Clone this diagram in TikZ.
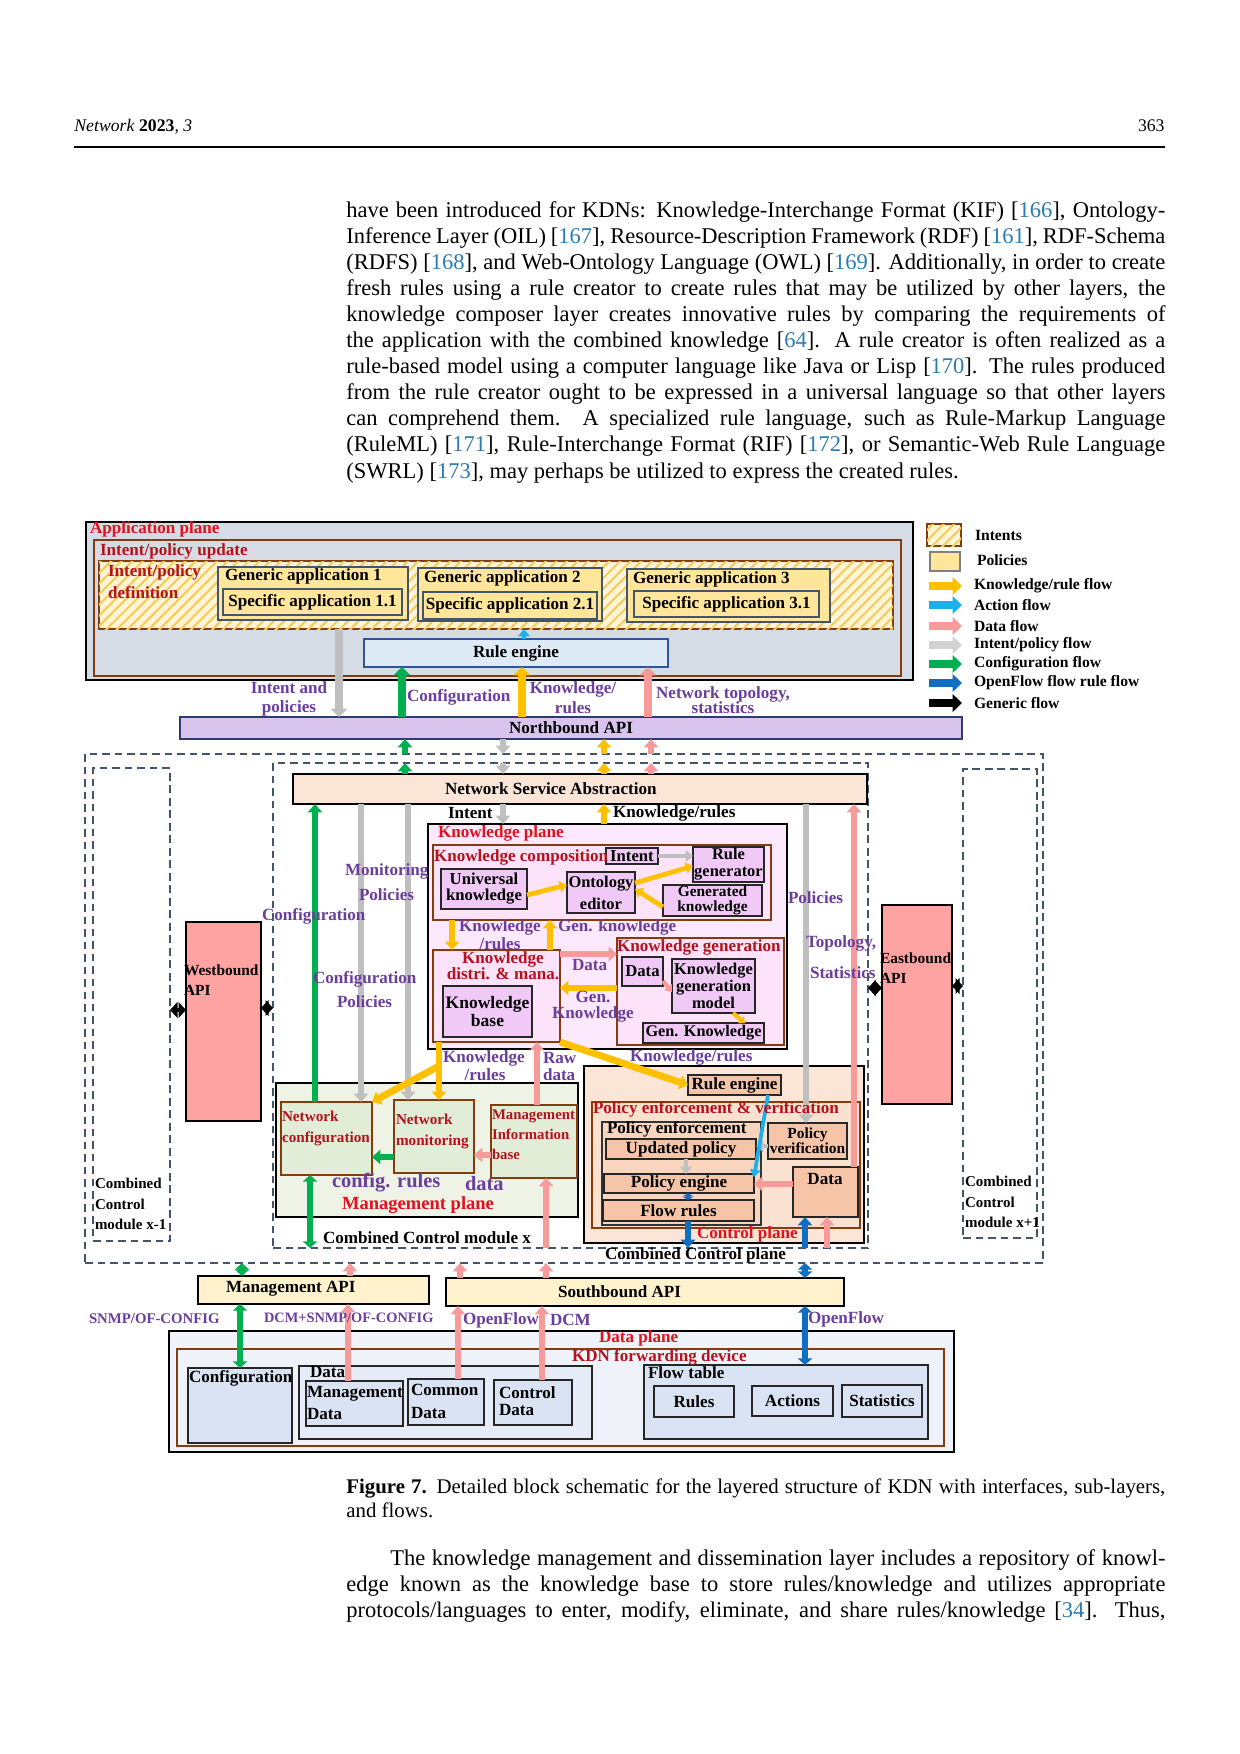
\documentclass[tikz,border=0pt]{standalone}
\usepackage{fontspec}
\setmainfont{Liberation Serif}
\usetikzlibrary{arrows.meta,patterns.meta}
\definecolor{redA}{HTML}{E3101E}
\definecolor{redB}{HTML}{B5121B}
\definecolor{purp}{HTML}{6A3E9E}
\definecolor{brownB}{HTML}{843C0C}
\definecolor{slate}{HTML}{44546A}
\definecolor{cyell}{HTML}{FFC000}
\definecolor{cgray}{HTML}{BFBFBF}
\definecolor{cgreen}{HTML}{00B050}
\definecolor{cpink}{HTML}{F79A9A}
\definecolor{ccyan}{HTML}{1CB0EC}
\definecolor{cblue}{HTML}{0F6EC0}
\definecolor{citec}{HTML}{2B7BB5}
\definecolor{appbg}{HTML}{D6DCE5}
\definecolor{polfill}{HTML}{FFE69A}
\definecolor{hatchbg}{HTML}{FFF5D6}
\definecolor{hatchln}{HTML}{F5CB5C}
\definecolor{rulebg}{HTML}{DEEBF7}
\definecolor{rulebd}{HTML}{2F5597}
\definecolor{nbbg}{HTML}{D8C4EC}
\definecolor{nbbd}{HTML}{2E3C6E}
\definecolor{nsabg}{HTML}{FBE5D6}
\definecolor{kpbg}{HTML}{FDE9FD}
\definecolor{kcbg}{HTML}{FCE3F9}
\definecolor{kinbg}{HTML}{F1C9F7}
\definecolor{wbbg}{HTML}{FFA2A2}
\definecolor{mpbg}{HTML}{EEF3E6}
\definecolor{mpin}{HTML}{E2EDD8}
\definecolor{cpbg}{HTML}{FBE5D6}
\definecolor{pevbg}{HTML}{FBE2D0}
\definecolor{pebg}{HTML}{F9D5BE}
\definecolor{pin}{HTML}{F6C4A6}
\definecolor{apibg}{HTML}{FFF2CC}
\definecolor{dpbg}{HTML}{EFF3F9}
\definecolor{dpin}{HTML}{DAE3F3}
\newcommand\dfz[2]{\fontsize{#1}{#2}\selectfont\bfseries}
\newcommand\bodyf{\fontsize{10.8}{13}\selectfont}
\newcommand\capf{\fontsize{10}{12}\selectfont}
\newcommand\rf[1]{\textcolor{citec}{#1}}
\newcommand\mybox[7]{\node[inner sep=0pt,outer sep=0pt,#6,minimum width={(#4-#2)*0.48pt},minimum height={(#5-#3)*0.48pt}] (#1) at ({(#2+#4)/2},{(#3+#5)/2}) {#7};}
\newcommand\jl[4]{\pgfmathsetlengthmacro\jw{(1165-#2)*0.48pt}\node[anchor=base west,inner sep=0pt,font=\bodyf] (#1) at (#2,#3) {\makebox[\jw][s]{#4}};}
\tikzset{
  lb/.style={inner sep=0pt,outer sep=0pt,font=\dfz{8.2}{9.5}},
  rA/.style={lb,text=redA},
  rB/.style={lb,text=redB},
  pu/.style={lb,text=purp},
  bk/.style={lb,text=black},
  lg/.style={inner sep=0pt,outer sep=0pt,font=\dfz{7.5}{9}},
  hatch/.style={fill=hatchbg,postaction={pattern color=hatchln,pattern={Lines[angle=45,distance=3.6pt,line width=1pt]}}},
  abox/.style={draw=slate,line width=0.6pt,fill=polfill,font=\dfz{8.2}{9.5}},
  brbox/.style={draw=brownB,line width=1.4pt,fill=kcbg},
  kbox/.style={draw=black!85,line width=0.6pt,fill=kinbg,font=\dfz{8}{9}},
  gbox/.style={draw=brownB,line width=1pt,fill=mpin},
  pbox/.style={draw=black!85,line width=0.6pt,fill=pin,font=\dfz{8.2}{9.5}},
  apibox/.style={draw=black,line width=0.6pt,fill=apibg},
  dbx/.style={draw=black!85,line width=0.6pt,fill=dpin,font=\dfz{8.2}{9.5}},
  dbox/.style={draw=slate,line width=0.9pt,dash pattern=on 3.8pt off 2.2pt},
  aup/.style={line width=4.3pt,-{Triangle[width=8pt,length=4pt]}},
  amid/.style={line width=3.3pt,-{Triangle[width=6.8pt,length=4pt]}},
  amidd/.style={line width=3.3pt,{Triangle[width=6.8pt,length=3.2pt]}-{Triangle[width=6.8pt,length=3.2pt]}},
  asm/.style={line width=2.3pt,-{Triangle[width=5.5pt,length=3.5pt]}},
  atiny/.style={line width=2pt,{Triangle[width=5pt,length=1.6pt]}-{Triangle[width=5pt,length=1.6pt]}},
  aleg/.style={line width=3.8pt,-{Triangle[width=8.5pt,length=4.5pt]}},
  ablk/.style={line width=2.2pt,{Triangle[width=7.5pt,length=3.6pt]}-{Triangle[width=7.5pt,length=3.6pt]}},
}
\begin{document}
\begin{tikzpicture}[x=0.48pt,y=-0.48pt]
\useasboundingbox (0,0) rectangle (1240,1754);
\fill[white] (0,0) rectangle (1240,1754);

% ---------- page header and text ----------
\node[anchor=base west,inner sep=0pt,font=\fontsize{8.5}{10}\selectfont] (hd) at (74,131) {\textit{Network} \textbf{2023}, \textit{3}};
\node[anchor=base east,inner sep=0pt,font=\fontsize{8.5}{10}\selectfont] (pg) at (1165,131) {363};
\draw[line width=0.5pt] (hd.west |- 0,147) -- (pg.east |- 0,147);

\jl{t1}{346}{217}{have been introduced for KDNs: Knowledge-Interchange Format (KIF) [\rf{166}], Ontology-}
\jl{t2}{346}{243.1}{Inference Layer (OIL) [\rf{167}], Resource-Description Framework (RDF) [\rf{161}], RDF-Schema}
\jl{t3}{346}{269.2}{(RDFS) [\rf{168}], and Web-Ontology Language (OWL) [\rf{169}]. Additionally, in order to create}
\jl{t4}{346}{295.3}{fresh rules using a rule creator to create rules that may be utilized by other layers, the}
\jl{t5}{346}{321.4}{knowledge composer layer creates innovative rules by comparing the requirements of}
\jl{t6}{346}{347.5}{the application with the combined knowledge [\rf{64}].  A rule creator is often realized as a}
\jl{t7}{346}{373.6}{rule-based model using a computer language like Java or Lisp [\rf{170}]. The rules produced}
\jl{t8}{346}{399.7}{from the rule creator ought to be expressed in a universal language so that other layers}
\jl{t9}{346}{425.8}{can comprehend them.  A specialized rule language, such as Rule-Markup Language}
\jl{t10}{346}{451.9}{(RuleML) [\rf{171}], Rule-Interchange Format (RIF) [\rf{172}], or Semantic-Web Rule Language}
\node[anchor=base west,inner sep=0pt,font=\bodyf] (t11) at (346,478) {(SWRL) [\rf{173}], may perhaps be utilized to express the created rules.};

\node[anchor=base west,inner sep=0pt,font=\capf] (c1) at (346,1493) {\makebox[393.1pt][s]{\textbf{Figure 7.} Detailed block schematic for the layered structure of KDN with interfaces, sub-layers,}};
\node[anchor=base west,inner sep=0pt,font=\capf] (c2) at (346,1517) {and flows.};

\jl{b1}{390}{1565}{The knowledge management and dissemination layer includes a repository of knowl-}
\jl{b2}{346}{1591}{edge known as the knowledge base to store rules/knowledge and utilizes appropriate}
\jl{b3}{346}{1617}{protocols/languages to enter, modify, eliminate, and share rules/knowledge [\rf{34}]. Thus,}

% ---------- application plane ----------
\mybox{app}{86}{522}{913}{680}{draw=black,line width=1.3pt,fill=appbg}{}
\mybox{ipu}{94}{540}{901}{676}{draw=brownB,line width=1.1pt}{}
\mybox{ipd}{99}{561}{893}{629}{draw=brownB,line width=1.1pt,hatch}{}
\mybox{ga1}{218}{567}{408}{620}{abox}{}
\mybox{sa1}{223}{589}{402}{615}{abox}{Specific application 1.1}
\mybox{ga2}{418}{568}{602}{621}{abox}{}
\mybox{sa2}{423}{592}{597}{619}{abox}{Specific application 2.1}
\mybox{ga3}{627}{569}{830}{622}{abox}{}
\mybox{sa3}{634}{591}{819}{617}{abox}{Specific application 3.1}
\mybox{re1}{364}{639}{668}{667}{draw=rulebd,line width=0.8pt,fill=rulebg,font=\dfz{8.2}{9.5}}{Rule engine}
\mybox{nb}{180}{717}{962}{739}{draw=nbbd,line width=0.8pt,fill=nbbg}{}

% ---------- legend ----------
\mybox{lgi}{927}{524}{961}{546}{draw=brownB,line width=1pt,hatch}{}
\mybox{lgp}{930}{552}{960}{571}{draw=gray,line width=0.6pt,fill=polfill}{}
\node[lg,anchor=west] (lg1) at (975,535) {Intents};
\node[lg,anchor=west] (lg2) at (977,560) {Policies};
\node[lg,anchor=west] (lg3) at (974,586) {Knowledge/rule flow};
\node[lg,anchor=west] (lg4) at (974,605) {Action flow};
\node[lg,anchor=west] (lg5) at (974,626) {Data flow};
\node[lg,anchor=west] (lg6) at (974,645) {Intent/policy flow};
\node[lg,anchor=west] (lg7) at (974,664) {Configuration flow};
\node[lg,anchor=west] (lg8) at (974,683) {OpenFlow flow rule flow};
\node[lg,anchor=west] (lg9) at (974,703) {Generic flow};
\draw[aleg,cyell] ([xshift=-21.6pt]lg3.west) -- ([xshift=-5.8pt]lg3.west);
\draw[aleg,ccyan] ([xshift=-21.6pt]lg4.west) -- ([xshift=-5.8pt]lg4.west);
\draw[aleg,cpink] ([xshift=-21.6pt]lg5.west) -- ([xshift=-5.8pt]lg5.west);
\draw[aleg,cgray!70] ([xshift=-21.6pt]lg6.west) -- ([xshift=-5.8pt]lg6.west);
\draw[aleg,cgreen] ([xshift=-21.6pt]lg7.west) -- ([xshift=-5.8pt]lg7.west);
\draw[aleg,cblue] ([xshift=-21.6pt]lg8.west) -- ([xshift=-5.8pt]lg8.west);
\draw[aleg,black] ([xshift=-21.6pt]lg9.west) -- ([xshift=-5.8pt]lg9.west);

% ---------- control plane boxes ----------
\mybox{ccp}{85}{754}{1043}{1263}{dbox}{}
\mybox{ccm1}{93}{768}{170}{1241}{dbox}{}
\mybox{ccmx}{273}{763}{868}{1248}{dbox}{}
\mybox{ccmp}{963}{769}{1037}{1238}{dbox}{}
\mybox{nsa}{293}{774}{867}{804}{draw=black,line width=0.6pt,fill=nsabg}{}
\mybox{kp}{428}{824}{787}{1049}{draw=black,line width=1.2pt,fill=kpbg}{}
\mybox{kc}{433}{845}{771}{920}{brbox}{}
\mybox{kin}{606}{848}{658}{864}{kbox}{Intent}
\mybox{rgen}{693}{847}{764}{882}{kbox,align=center,font=\dfz{7.9}{8.2}}{Rule\\generator}
\mybox{univ}{441}{869}{527}{909}{kbox,align=center,font=\dfz{8}{7.7}}{Universal\\knowledge}
\mybox{onto}{567}{872}{635}{913}{kbox,align=center,font=\dfz{7.9}{10.6}}{Ontology\\editor}
\mybox{genk}{663}{885}{762}{916}{kbox,align=center,font=\dfz{7.4}{7.2}}{Generated\\knowledge}
\mybox{kdm}{433}{950}{560}{1042}{brbox}{}
\mybox{kb}{443}{986}{532}{1037}{kbox,align=center,font=\dfz{8.4}{7.4}}{Knowledge\\base}
\mybox{kg}{617}{938}{784}{1045}{brbox}{}
\mybox{kgd}{622}{957}{663}{986}{kbox}{Data}
\mybox{kgm}{672}{959}{755}{1013}{kbox,align=center,font=\dfz{7.9}{7.2}}{Knowledge\\generation\\model}
\mybox{kgg}{643}{1023}{764}{1043}{kbox,font=\dfz{7.8}{9}}{Gen. Knowledge}
\mybox{wb}{186}{922}{261}{1121}{draw=black,line width=0.6pt,fill=wbbg}{}
\mybox{eb}{882}{905}{952}{1104}{draw=black,line width=0.6pt,fill=wbbg}{}
\mybox{mp}{276}{1083}{578}{1217}{draw=black,line width=1.2pt,fill=mpbg}{}
\mybox{ncfg}{281}{1102}{372}{1175}{gbox}{}
\mybox{nmon}{394}{1100}{474}{1173}{gbox}{}
\mybox{mib}{491}{1105}{577}{1178}{gbox}{}
\mybox{cp}{584}{1066}{864}{1243}{draw=black,line width=1.2pt,fill=cpbg}{}
\mybox{re2}{688}{1075}{781}{1095}{pbox}{Rule engine}
\mybox{pev}{592}{1102}{860}{1228}{draw=brownB,line width=1.2pt,fill=pevbg}{}
\mybox{pe}{602}{1122}{761}{1225}{draw=black!80,line width=0.6pt,fill=pebg}{}
\mybox{upd}{606}{1139}{756}{1159}{pbox}{Updated policy}
\mybox{peng}{604}{1174}{754}{1193}{pbox}{Policy engine}
\mybox{frules}{603}{1200}{754}{1221}{pbox}{Flow rules}
\mybox{pver}{768}{1123}{847}{1159}{pbox,align=center,font=\dfz{7.4}{7.2}}{Policy\\verification}
\mybox{cdata}{793}{1167}{858}{1217}{pbox}{}

% ---------- APIs and data plane ----------
\mybox{mapi}{198}{1276}{429}{1304}{apibox}{}
\mybox{sapi}{446}{1278}{844}{1306}{apibox}{}
\mybox{dp}{169}{1331}{954}{1452}{draw=black,line width=1.2pt,fill=dpbg}{}
\mybox{kdn}{177}{1349}{944}{1446}{draw=brownB,line width=1.2pt}{}
\mybox{cfg}{188}{1368}{292}{1443}{dbx}{}
\mybox{dgrp}{299}{1366}{592}{1439}{dbx,fill=dpin!70!white}{}
\mybox{mdata}{306}{1381}{403}{1426}{dbx}{}
\mybox{cdat}{408}{1379}{484}{1425}{dbx}{}
\mybox{ctrld}{494}{1380}{572}{1425}{dbx}{}
\mybox{ftab}{644}{1365}{928}{1439}{dbx}{}
\mybox{rules}{654}{1386}{734}{1417}{dbx}{Rules}
\mybox{actions}{752}{1386}{833}{1416}{dbx}{Actions}
\mybox{stats}{842}{1385}{922}{1417}{dbx}{Statistics}

% ---------- arrows: application plane ----------
\draw[aup,cgray] (339,0 |- ipd.south) -- (339,0 |- nb.north);
\draw[aup,cgreen] (402,0 |- nb.north) -- (402,0 |- re1.south);
\draw[aup,cyell] (522,0 |- nb.north) -- (522,0 |- re1.south);
\draw[aup,cpink] (648,0 |- nb.north) -- (648,0 |- re1.south);
\draw[asm,ccyan] (524,0 |- re1.north) -- (524,0 |- ipd.south);

% ---------- arrows: northbound to NSA ----------
\draw[amid,cgreen] (405,0 |- ccp.north) -- (405,0 |- nb.south);
\draw[amid,cgreen] (405,0 |- nsa.north) -- (405,0 |- ccmx.north);
\draw[amid,cgray] (503,0 |- nb.south) -- (503,0 |- ccp.north);
\draw[amid,cgray] (503,0 |- ccmx.north) -- (503,0 |- nsa.north);
\draw[amid,cyell] (604,0 |- ccp.north) -- (604,0 |- nb.south);
\draw[amid,cyell] (604,0 |- nsa.north) -- (604,0 |- ccmx.north);
\draw[amid,cpink] (651,0 |- ccp.north) -- (651,0 |- nb.south);
\draw[amid,cpink] (651,0 |- nsa.north) -- (651,0 |- ccmx.north);

% ---------- arrows: module x ----------
\draw[amid,cgray] (503,0 |- nsa.south) -- (503,0 |- kp.north);
\draw[amid,cyell] (604,0 |- kp.north) -- (604,0 |- nsa.south);
\draw[amid,cgreen] (315,0 |- ncfg.north) -- (315,0 |- nsa.south);
\draw[amid,cgray] (361,0 |- nsa.south) -- (361,0 |- ncfg.north);
\draw[amid,cgray] (408,0 |- nsa.south) -- (408,0 |- nmon.north);
\draw[amid,cgray] (806,0 |- nsa.south) -- (806,0 |- pver.north);
\draw[amid,cpink] (854,0 |- cdata.north) -- (854,0 |- nsa.south);

% knowledge plane internals
\draw[asm,cyell] (univ.east |- 0,895) -- (onto.west |- 0,885);
\draw[asm,cyell] (onto.east |- 0,883) -- (rgen.west |- 0,866);
\draw[asm,cyell] (genk.west |- 0,907) -- (onto.east |- 0,889);
\draw[asm,cgray] (kin.east) -- (rgen.west |- kin.east);
\draw[amid,cyell] (452,0 |- kc.south) -- (452,0 |- kdm.north);
\draw[amid,cyell] (550,0 |- kdm.north) -- (550,0 |- kc.south);
\draw[amid,cpink] (kdm.east |- 0,954) -- (kg.west |- 0,954);
\draw[amid,cyell] (kg.west |- 0,988) -- (kdm.east |- 0,988);
\draw[line width=2pt,cpink,-{Triangle[width=4.5pt,length=3pt]}] (kgd.east |- 0,981) -- (kgm.west |- 0,992);
\draw[line width=2pt,cyell,-{Triangle[width=4.5pt,length=2.5pt]}] (733,0 |- kgm.south) -- (745,0 |- kgg.north);

% knowledge plane to management / control
\coordinate (ybr) at (439,1066);
\draw[amid,cyell] (439,0 |- kdm.south) -- (439,0 |- nmon.north);
\draw[amid,cyell] (ybr) -- (ncfg.north east);
\draw[amid,cpink] (537,0 |- mib.north) -- (537,0 |- kdm.south);
\draw[amid,cyell] (kdm.south east) -- (re2.west);

% management plane internals
\draw[amid,cgreen] (nmon.west |- 0,1157) -- (ncfg.east |- 0,1157);
\draw[amid,cpink] (mib.west |- 0,1155) -- (nmon.east |- 0,1155);
\draw[amidd,cgreen] (310,0 |- ncfg.south) -- (310,0 |- ccmx.south);
\draw[amid,cpink] (546,0 |- ccmx.south) -- (546,0 |- mib.south);

% control plane internals
\draw[asm,cgray] (pver.west |- 0,1146) -- (upd.east |- 0,1146);
\draw[asm,cgray] (686,0 |- upd.south) -- (686,0 |- peng.north);
\draw[atiny,cblue] (688,0 |- peng.south) -- (688,0 |- frules.north);
\draw[line width=1.8pt,ccyan,-{Triangle[width=5pt,length=3.5pt]}] (768,0 |- re2.south) -- (peng.east |- 0,1177);
\draw[amid,cpink] (cdata.west |- 0,1184) -- (peng.east |- 0,1184);
\draw[amid,cblue] (688,0 |- frules.south) -- (688,0 |- ccmx.south);
\draw[amid,cblue] (805,0 |- ccmx.south) -- (805,0 |- cdata.south);
\draw[amid,cpink] (827,0 |- ccmx.south) -- (827,0 |- cdata.south);

% westbound / eastbound
\draw[ablk] (ccm1.east |- 0,1010) -- (wb.west |- 0,1010);
\draw[ablk] (wb.east |- 0,1008) -- (ccmx.west |- 0,1008);
\draw[ablk] (ccmx.east |- 0,988) -- (eb.west |- 0,988);
\draw[ablk] (eb.east |- 0,986) -- (ccmp.west |- 0,986);

% control to APIs
\draw[amidd,cgreen] (242,0 |- ccp.south) -- (242,0 |- mapi.north);
\draw[amid,cpink] (350,0 |- mapi.north) -- (350,0 |- ccp.south);
\draw[amid,cpink] (460,0 |- sapi.north) -- (460,0 |- ccp.south);
\draw[amid,cpink] (546,0 |- sapi.north) -- (546,0 |- ccp.south);
\draw[amidd,cblue] (805,0 |- sapi.north) -- (805,0 |- ccp.south);

% APIs to data plane
\draw[amidd,cgreen] (240,0 |- mapi.south) -- (240,0 |- cfg.north);
\draw[amid,cpink] (348,0 |- mdata.north) -- (348,0 |- mapi.south);
\draw[amid,cpink] (458,0 |- cdat.north) -- (458,0 |- sapi.south);
\draw[amid,cpink] (542,0 |- ctrld.north) -- (542,0 |- sapi.south);
\draw[amidd,cblue] (805,0 |- sapi.south) -- (805,0 |- ftab.north);

% ---------- labels ----------
\node[rA,anchor=west] (apl) at (90,529) {Application plane};
\node[rB,anchor=west] (ipul) at (100,551) {Intent/policy update};
\node[rB,anchor=west,align=left,font=\dfz{8.2}{10.6}] (ipdl) at (108,582) {Intent/policy\\definition};
\node[bk,anchor=west] (ga1l) at (225,576) {Generic application 1};
\node[bk,anchor=west] (ga2l) at (424,578) {Generic application 2};
\node[bk,anchor=west] (ga3l) at (633,579) {Generic application 3};
\node[pu,align=center,font=\dfz{8.2}{9.1}] (iapl) at (289,699) {Intent and\\policies};
\node[pu,anchor=west] (cfgl) at (407,697) {Configuration};
\node[pu,align=center,font=\dfz{8.2}{9.6}] (krl) at (573,698) {Knowledge/\\rules};
\node[pu,align=center,font=\dfz{8.2}{7.5}] (ntl) at (723,700) {Network topology,\\statistics};
\node[bk] (nbl) at (571,728) {Northbound API};

\node[bk,anchor=west] (nsal) at (445,789) {Network Service Abstraction};
\node[bk,anchor=west] (intl) at (448,813) {Intent};
\node[bk,anchor=west] (kr2l) at (613,813) {Knowledge/rules};
\node[rA,anchor=west] (kpl) at (438,833) {Knowledge plane};
\node[rB,anchor=west] (kcl) at (434,857) {Knowledge composition};
\node[pu,align=center,font=\dfz{8.2}{6.8}] (kr3l) at (500,935) {Knowledge\\/rules};
\node[pu,anchor=west] (gkl) at (558,927) {Gen. knowledge};
\node[rB,align=center,font=\dfz{8.2}{7.7}] (kdml) at (503,966) {Knowledge\\distri. \& mana.};
\node[pu,anchor=west] (datl) at (572,965) {Data};
\node[pu,align=center,font=\dfz{8.2}{7.7}] (gk2l) at (593,1007) {Gen.\\Knowledge};
\node[rB,anchor=west] (kgl) at (617,947) {Knowledge generation};
\node[pu,anchor=west] (monl) at (345,871) {Monitoring};
\node[pu,anchor=west] (pol1) at (359,895) {Policies};
\node[pu,anchor=west] (cfg2l) at (262,916) {Configuration};
\node[pu,anchor=west] (cfg3l) at (313,979) {Configuration};
\node[pu,anchor=west] (pol2) at (337,1002) {Policies};
\node[bk,anchor=west,align=left,font=\dfz{7.4}{9.6}] (wbl) at (184,980) {Westbound\\API};
\node[bk,anchor=west,align=left,font=\dfz{7.4}{9.6}] (ebl) at (880,968) {Eastbound\\API};
\node[pu,anchor=west] (pol3) at (788,898) {Policies};
\node[pu,anchor=west] (topl) at (806,943) {Topology,};
\node[pu,anchor=west] (stal) at (810,973) {Statistics};
\node[bk,anchor=west,align=left,font=\dfz{7.2}{10}] (cm1l) at (95,1204) {Combined\\Control\\module x-1};
\node[bk,anchor=west,align=left,font=\dfz{7.2}{10}] (cm2l) at (965,1202) {Combined\\Control\\module x+1};
\node[pu,anchor=west] (kr4l) at (443,1058) {Knowledge};
\node[pu] (kr5l) at (485,1075) {/rules};
\node[pu,anchor=west] (rawl) at (543,1058) {Raw};
\node[pu,anchor=west] (rdl) at (543,1075) {data};
\node[pu,anchor=west] (kr6l) at (630,1057) {Knowledge/rules};
\node[rB,anchor=west,align=left,font=\dfz{7.3}{10}] (ncl) at (282,1128) {Network\\configuration};
\node[rB,anchor=west,align=left,font=\dfz{7.3}{10}] (nml) at (396,1131) {Network\\monitoring};
\node[rB,anchor=west,align=left,font=\dfz{7.1}{9.6}] (mibl) at (492,1135) {Management\\Information\\base};
\node[pu,anchor=west,font=\dfz{9.8}{11}] (crl) at (332,1183) {config. rules};
\node[pu,anchor=west,font=\dfz{9.8}{11}] (dl2) at (465,1183) {data};
\node[rA,font=\dfz{8.9}{10}] (mpl) at (418,1205) {Management plane};
\node[bk,anchor=west] (ccmxl) at (323,1238) {Combined Control module x};
\node[rB,anchor=west] (pevl) at (593,1109) {Policy enforcement \& verification};
\node[bk,anchor=west] (pel) at (607,1129) {Policy enforcement};
\node[bk] (cdl) at (825,1179) {Data};
\node[rA,anchor=west] (cpl) at (697,1234) {Control plane};
\node[bk,anchor=west] (ccpl) at (605,1255) {Combined Control plane};
\node[bk,anchor=west] (mapil) at (226,1289) {Management API};
\node[bk,anchor=west] (sapil) at (558,1292) {Southbound API};
\node[pu,anchor=west,font=\dfz{7.1}{8}] (snl) at (89,1319) {SNMP/OF-CONFIG};
\node[pu,anchor=west,font=\dfz{6.9}{8}] (dsl) at (264,1318) {DCM+SNMP/OF-CONFIG};
\node[pu,anchor=west] (ofl1) at (463,1320) {OpenFlow};
\node[pu,anchor=west] (dcml) at (550,1320) {DCM};
\node[pu,anchor=west] (ofl2) at (808,1319) {OpenFlow};
\node[rA,anchor=west] (dpl) at (599,1338) {Data plane};
\node[rB,anchor=west] (kdnl) at (572,1357) {KDN forwarding device};
\node[bk,anchor=west] (cfgl2) at (189,1378) {Configuration};
\node[bk,anchor=west] (dgl) at (310,1372) {Data};
\node[bk,anchor=west,align=left,font=\dfz{8.2}{10.6}] (mdl) at (307,1403) {Management\\Data};
\node[bk,anchor=west,align=left,font=\dfz{8.2}{11}] (cdl2) at (411,1401) {Common\\Data};
\node[bk,anchor=west,align=left,font=\dfz{8.2}{8.4}] (ctl) at (499,1401) {Control\\Data};
\node[bk,anchor=west] (ftl) at (648,1373) {Flow table};
\end{tikzpicture}
\end{document}
